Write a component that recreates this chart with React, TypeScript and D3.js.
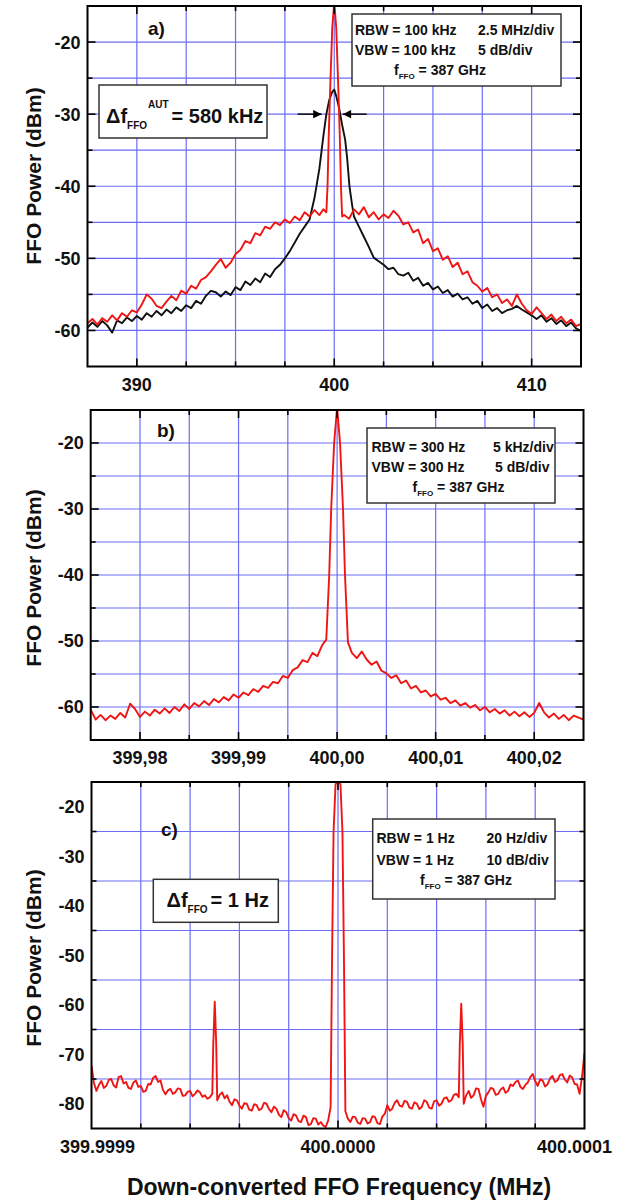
import React from "react";
import * as d3 from "d3";

// ---------------- Panel a data (MHz, dBm) ----------------
const aFreqTicks = [390, 400, 410];
const aFreqLabels = ["390", "400", "410"];
const aPowerTicks = [-20, -30, -40, -50, -60];
const aArrowTips = [399.36, 400.43];
const aArrowLevel = -30;

const aRed: [number, number][] = [
  [387.5, -59.0], [387.75, -58.4], [388.0, -59.2], [388.25, -58.3], [388.5, -58.8], [388.75, -57.9],
  [389.0, -58.6], [389.25, -57.6], [389.5, -58.1], [389.75, -57.2], [390.0, -57.5], [390.25, -56.4],
  [390.5, -55.0], [390.75, -55.6], [391.0, -56.6], [391.25, -56.9], [391.5, -56.0], [391.75, -55.2],
  [392.0, -55.8], [392.25, -54.5], [392.5, -54.9], [392.75, -53.8], [393.0, -54.2], [393.25, -53.0],
  [393.5, -52.6], [393.75, -51.8], [394.0, -50.9], [394.25, -50.1], [394.5, -51.3], [394.75, -50.6],
  [395.0, -49.4], [395.25, -48.8], [395.5, -47.6], [395.75, -47.9], [396.0, -46.5], [396.25, -46.8],
  [396.5, -45.6], [396.75, -45.9], [397.0, -45.0], [397.25, -45.4], [397.5, -44.6], [397.75, -45.1],
  [398.0, -44.2], [398.25, -44.7], [398.5, -43.6], [398.75, -44.2], [399.0, -43.3], [399.25, -44.0],
  [399.45, -43.2], [399.6, -43.6], [399.66, -40.0], [399.72, -33.0], [399.8, -26.0], [399.9, -18.0],
  [400.0, -14.5], [400.1, -18.0], [400.2, -26.0], [400.28, -33.0], [400.34, -40.0], [400.4, -44.2],
  [400.5, -44.0], [400.75, -44.5], [401.0, -43.2], [401.25, -43.9], [401.5, -42.9], [401.75, -44.3],
  [402.0, -43.6], [402.25, -44.6], [402.5, -43.9], [402.75, -44.4], [403.0, -43.4], [403.25, -44.1],
  [403.5, -45.3], [403.75, -45.0], [404.0, -46.4], [404.25, -46.0], [404.5, -47.9], [404.75, -47.3],
  [405.0, -49.0], [405.25, -48.6], [405.5, -50.2], [405.75, -49.7], [406.0, -51.2], [406.25, -50.6],
  [406.5, -52.2], [406.75, -51.8], [407.0, -53.3], [407.25, -53.8], [407.5, -54.6], [407.75, -54.1],
  [408.0, -55.4], [408.25, -55.0], [408.5, -56.2], [408.75, -55.7], [409.0, -56.6], [409.25, -55.0],
  [409.5, -56.3], [409.75, -57.2], [410.0, -57.7], [410.25, -56.8], [410.5, -57.6], [410.75, -58.4],
  [411.0, -57.8], [411.25, -58.7], [411.5, -58.1], [411.75, -59.0], [412.0, -58.5], [412.25, -59.4],
  [412.5, -59.1],
];

const aBlack: [number, number][] = [
  [387.5, -59.6], [387.75, -58.9], [388.0, -59.5], [388.25, -58.7], [388.5, -59.3], [388.75, -60.3],
  [389.0, -58.6], [389.25, -59.0], [389.5, -58.2], [389.75, -58.7], [390.0, -58.0], [390.25, -58.5],
  [390.5, -57.6], [390.75, -58.1], [391.0, -57.3], [391.25, -57.9], [391.5, -57.1], [391.75, -57.6],
  [392.0, -56.8], [392.25, -57.3], [392.5, -56.5], [392.75, -56.9], [393.0, -55.9], [393.25, -56.3],
  [393.5, -55.2], [393.75, -54.5], [394.0, -54.7], [394.25, -55.3], [394.5, -54.6], [394.75, -55.1],
  [395.0, -54.0], [395.25, -54.4], [395.5, -53.2], [395.75, -53.7], [396.0, -52.8], [396.25, -53.3],
  [396.5, -52.1], [396.75, -52.6], [397.0, -51.5], [397.25, -50.9], [397.5, -50.0], [397.75, -49.0],
  [398.0, -47.8], [398.25, -46.6], [398.5, -45.6], [398.75, -44.6], [399.0, -41.6], [399.25, -37.5],
  [399.45, -33.0], [399.6, -30.0], [399.75, -28.0], [399.9, -26.9], [400.0, -26.6], [400.1, -27.5],
  [400.25, -29.2], [400.4, -31.5], [400.55, -33.5], [400.65, -36.0], [400.77, -40.0], [400.9, -42.5],
  [401.0, -44.2], [401.25, -45.6], [401.5, -47.0], [401.75, -48.4], [402.0, -49.9], [402.25, -50.4],
  [402.5, -50.9], [402.75, -51.5], [403.0, -51.3], [403.25, -52.2], [403.5, -52.4], [403.75, -52.0],
  [404.0, -53.1], [404.25, -52.7], [404.5, -53.8], [404.75, -53.4], [405.0, -54.3], [405.25, -53.9],
  [405.5, -54.8], [405.75, -54.4], [406.0, -55.3], [406.25, -54.9], [406.5, -55.7], [406.75, -55.4],
  [407.0, -56.3], [407.25, -55.9], [407.5, -56.9], [407.75, -56.4], [408.0, -57.3], [408.25, -56.9],
  [408.5, -57.6], [408.75, -57.2], [409.0, -57.0], [409.25, -56.6], [409.5, -57.1], [409.75, -57.5],
  [410.0, -57.9], [410.25, -58.4], [410.5, -57.9], [410.75, -58.8], [411.0, -58.3], [411.25, -59.1],
  [411.5, -58.6], [411.75, -59.4], [412.0, -58.9], [412.25, -59.7], [412.5, -60.1],
];

// ---------------- Panel b data (MHz, dBm) ----------------
const bFreqTicks = [399.98, 399.99, 400.0, 400.01, 400.02];
const bFreqLabels = ["399,98", "399,99", "400,00", "400,01", "400,02"];
const bPowerTicks = [-20, -30, -40, -50, -60];

const bRed: [number, number][] = [
  [399.975, -60.4], [399.9755, -61.9], [399.976, -61.2], [399.9765, -62.0], [399.977, -61.3],
  [399.9775, -61.8], [399.978, -60.9], [399.9785, -61.6], [399.979, -59.5], [399.9795, -60.3],
  [399.98, -61.5], [399.9805, -60.7], [399.981, -61.3], [399.9815, -60.4], [399.982, -61.0],
  [399.9825, -60.2], [399.983, -60.9], [399.9835, -60.0], [399.984, -60.6], [399.9845, -59.6],
  [399.985, -60.3], [399.9855, -59.4], [399.986, -59.9], [399.9865, -59.1], [399.987, -59.7],
  [399.9875, -58.8], [399.988, -59.3], [399.9885, -58.5], [399.989, -59.0], [399.9895, -58.1],
  [399.99, -58.6], [399.9905, -57.8], [399.991, -58.2], [399.9915, -57.3], [399.992, -57.7],
  [399.9925, -56.8], [399.993, -57.1], [399.9935, -56.2], [399.994, -56.4], [399.9945, -55.3],
  [399.995, -55.6], [399.9955, -54.4], [399.996, -54.0], [399.9965, -52.9], [399.997, -53.2],
  [399.9975, -51.8], [399.998, -52.3], [399.9985, -50.6], [399.9989, -49.8], [399.9992, -40.0],
  [399.9994, -30.0], [399.9997, -20.0], [400.0, -14.6], [400.0003, -20.0], [400.0006, -30.0],
  [400.0008, -40.0], [400.0011, -50.2], [400.0015, -51.8],
  [400.002, -52.6], [400.0025, -51.6], [400.003, -52.8], [400.0035, -53.6], [400.004, -53.1],
  [400.0045, -54.5], [400.005, -54.9], [400.0055, -55.6], [400.006, -55.2], [400.0065, -56.4],
  [400.007, -56.0], [400.0075, -57.2], [400.008, -56.8], [400.0085, -57.8], [400.009, -57.5],
  [400.0095, -58.4], [400.01, -58.0], [400.0105, -58.9], [400.011, -58.6], [400.0115, -59.4],
  [400.012, -59.0], [400.0125, -59.8], [400.013, -59.4], [400.0135, -60.1], [400.014, -59.7],
  [400.0145, -60.5], [400.015, -60.0], [400.0155, -60.8], [400.016, -60.3], [400.0165, -61.0],
  [400.017, -60.5], [400.0175, -61.3], [400.018, -60.7], [400.0185, -61.4], [400.019, -60.8],
  [400.0195, -61.5], [400.02, -60.9], [400.0205, -59.4], [400.021, -60.8], [400.0215, -61.6],
  [400.022, -61.0], [400.0225, -61.8], [400.023, -61.2], [400.0235, -62.0], [400.024, -61.3],
  [400.025, -61.9],
];

// ---------------- Panel c data (Hz offset from 400 MHz, dBm) ----------------
const cFreqTicks = [-100, 0, 100];
const cFreqLabels = ["399.9999", "400.0000", "400.0001"];
const cPowerTicks = [-20, -30, -40, -50, -60, -70, -80];

const cRed: [number, number][] = [
  [-100, -72.3], [-99, -75.8], [-98, -77.4], [-97, -76.2], [-96, -75.4], [-95, -76.8], [-94, -76.4],
  [-93, -75.2], [-92, -75.0], [-91, -76.3], [-90, -76.7], [-89, -74.6], [-88, -74.4], [-87, -75.9],
  [-86, -75.6], [-85, -76.8], [-84, -77.0], [-83, -75.7], [-82, -75.3], [-81, -76.6], [-80, -76.4],
  [-79, -77.6], [-78, -77.4], [-77, -76.0], [-76, -76.1], [-75, -74.8], [-74, -74.4], [-73, -75.6],
  [-72, -75.3], [-71, -77.2], [-70, -78.1], [-69, -77.3], [-68, -77.0], [-67, -78.0], [-66, -77.7],
  [-65, -76.9], [-64, -77.0], [-63, -78.4], [-62, -78.3], [-61, -77.6], [-60, -77.4], [-59, -78.5],
  [-58, -78.0], [-57, -77.3], [-56, -77.7], [-55, -78.6], [-54, -78.3], [-53, -79.0], [-52, -78.7],
  [-51, -78.0], [-50.6, -68.0], [-50, -59.4], [-49.4, -68.0], [-49, -79.3], [-48, -78.2], [-47, -77.7],
  [-46, -78.9], [-45, -78.3], [-44, -79.6], [-43, -80.3], [-42, -79.1], [-41, -79.3], [-40, -80.4],
  [-39, -81.0], [-38, -79.9], [-37, -80.0], [-36, -81.2], [-35, -81.4], [-34, -80.1], [-33, -80.3],
  [-32, -81.3], [-31, -81.0], [-30, -79.8], [-29, -80.0], [-28, -81.1], [-27, -81.7], [-26, -80.6],
  [-25, -81.0], [-24, -82.2], [-23, -82.7], [-22, -81.3], [-21, -81.7], [-20, -82.9], [-19, -83.4],
  [-18, -82.1], [-17, -82.4], [-16, -83.5], [-15, -83.7], [-14, -82.4], [-13, -82.7], [-12, -84.3],
  [-11, -84.1], [-10, -82.9], [-9, -83.0], [-8, -84.2], [-7, -83.7], [-6, -84.4], [-5, -84.7],
  [-4, -83.4], [-3, -80.7], [-2.4, -50.0], [-1.8, -25.0], [-1.0, -15.5], [0, -14.5], [1.0, -15.5],
  [1.8, -25.0], [2.4, -50.0], [3, -81.5],
  [4, -83.0], [5, -83.7], [6, -82.6], [7, -82.7], [8, -83.8], [9, -84.1], [10, -82.9], [11, -83.0],
  [12, -84.0], [13, -83.7], [14, -82.5], [15, -82.7], [16, -83.9], [17, -84.1], [18, -82.6],
  [19, -82.0], [20, -80.3], [21, -81.4], [22, -81.0], [23, -79.8], [24, -79.3], [25, -80.4],
  [26, -80.6], [27, -79.4], [28, -79.6], [29, -80.8], [30, -81.0], [31, -79.7], [32, -80.0],
  [33, -81.1], [34, -80.6], [35, -79.3], [36, -79.6], [37, -80.8], [38, -81.0], [39, -79.5],
  [40, -79.3], [41, -80.4], [42, -80.0], [43, -78.9], [44, -78.7], [45, -79.6], [46, -79.3],
  [47, -78.2], [48, -78.0], [49, -78.7], [49.4, -68.0], [50, -59.8], [50.6, -68.0], [51, -80.0],
  [52, -78.3], [53, -77.4], [54, -78.8], [55, -78.3], [56, -76.9], [57, -77.0], [58, -79.1],
  [59, -80.6], [60, -78.4], [61, -77.7], [62, -76.8], [63, -77.0], [64, -78.2], [65, -78.0],
  [66, -77.1], [67, -76.7], [68, -77.8], [69, -77.4], [70, -76.1], [71, -76.4], [72, -75.6],
  [73, -75.3], [74, -76.6], [75, -77.0], [76, -76.2], [77, -75.7], [78, -74.6], [79, -74.0],
  [80, -75.4], [81, -76.4], [82, -75.1], [83, -75.3], [84, -76.5], [85, -76.1], [86, -74.9],
  [87, -74.4], [88, -75.6], [89, -75.3], [90, -74.2], [91, -74.0], [92, -75.1], [93, -75.7],
  [94, -74.3], [95, -74.7], [96, -76.0], [97, -76.1], [98, -78.0], [99, -74.5], [100, -69.7],
];

// ---------------- styling ----------------
const FONT = "'Liberation Sans', Arial, Helvetica, sans-serif";
const RED = "#f01515";
const BLACK = "#111";
const GRID = "#6c6cf6";

type Series = { data: [number, number][]; color: string; width: number };

type PanelProps = {
  id: string;
  left: number;
  right: number;
  top: number;
  bottom: number;
  xDomain: [number, number];
  yDomain: [number, number];
  xStep: number;
  yStep: number;
  xTicks: number[];
  xLabels: string[];
  xLabelDx?: number[];
  yTicks: number[];
  series: Series[];
  yTitleY: number;
  children?: (x: d3.ScaleLinear<number, number>, y: d3.ScaleLinear<number, number>) => React.ReactNode;
};

function gridValues(d: [number, number], step: number) {
  const n = Math.round((d[1] - d[0]) / step);
  return d3.range(1, n).map((i) => d[0] + i * step);
}

function Panel(p: PanelProps) {
  const x = d3.scaleLinear().domain(p.xDomain).range([p.left, p.right]);
  const y = d3.scaleLinear().domain(p.yDomain).range([p.bottom, p.top]);
  const xs = gridValues(p.xDomain, p.xStep);
  const ys = gridValues(p.yDomain, p.yStep);
  const line = d3
    .line<[number, number]>()
    .x((d) => x(d[0]))
    .y((d) => y(d[1]));
  const isMajor = (v: number, arr: number[], tol: number) => arr.some((t) => Math.abs(t - v) < tol);
  const xTol = p.xStep / 10;
  const yTol = p.yStep / 10;
  return (
    <g>
      <defs>
        <clipPath id={`clip-${p.id}`}>
          <rect x={p.left} y={p.top} width={p.right - p.left} height={p.bottom - p.top} />
        </clipPath>
      </defs>
      <rect x={p.left} y={p.top} width={p.right - p.left} height={p.bottom - p.top} fill="#fff" />
      {xs.map((v, i) => (
        <line key={`gx${i}`} x1={x(v)} x2={x(v)} y1={p.top} y2={p.bottom} stroke={GRID} strokeWidth={1.2} />
      ))}
      {ys.map((v, i) => (
        <line key={`gy${i}`} x1={p.left} x2={p.right} y1={y(v)} y2={y(v)} stroke={GRID} strokeWidth={1.2} />
      ))}
      <g clipPath={`url(#clip-${p.id})`}>
        {p.series.map((s, i) => (
          <path key={i} d={line(s.data) || ""} fill="none" stroke={s.color} strokeWidth={s.width} strokeLinejoin="round" />
        ))}
      </g>
      {p.children ? p.children(x, y) : null}
      {xs.map((v, i) => {
        const len = isMajor(v, p.xTicks, xTol) ? 8 : 5;
        return (
          <g key={`tx${i}`} stroke="#000" strokeWidth={1.6}>
            <line x1={x(v)} x2={x(v)} y1={p.bottom} y2={p.bottom - len} />
            <line x1={x(v)} x2={x(v)} y1={p.top} y2={p.top + len} />
          </g>
        );
      })}
      {ys.map((v, i) => {
        const len = isMajor(v, p.yTicks, yTol) ? 8 : 5;
        return (
          <g key={`ty${i}`} stroke="#000" strokeWidth={1.6}>
            <line x1={p.left} x2={p.left + len} y1={y(v)} y2={y(v)} />
            <line x1={p.right} x2={p.right - len} y1={y(v)} y2={y(v)} />
          </g>
        );
      })}
      <rect
        x={p.left}
        y={p.top}
        width={p.right - p.left}
        height={p.bottom - p.top}
        fill="none"
        stroke="#000"
        strokeWidth={2}
      />
      {p.xTicks.map((v, i) => (
        <text
          key={`lx${i}`}
          x={x(v) + (p.xLabelDx ? p.xLabelDx[i] : 0)}
          y={p.bottom + 24}
          textAnchor="middle"
          fontFamily={FONT}
          fontWeight="bold"
          fontSize={18}
          fill="#111"
        >
          {p.xLabels[i]}
        </text>
      ))}
      {p.yTicks.map((v, i) => (
        <text
          key={`ly${i}`}
          x={p.left - 7}
          y={y(v)}
          dy="0.36em"
          textAnchor="end"
          fontFamily={FONT}
          fontWeight="bold"
          fontSize={18}
          fill="#111"
        >
          {String(v)}
        </text>
      ))}
      <text
        transform={`translate(41,${p.yTitleY}) rotate(-90)`}
        textAnchor="middle"
        fontFamily={FONT}
        fontWeight="bold"
        fontSize={21}
        fill="#111"
      >
        FFO Power (dBm)
      </text>
    </g>
  );
}

const txt = { fontFamily: FONT, fontWeight: "bold" as const, fill: "#111" };

function FLine({ x, y, size = 14 }: { x: number; y: number; size?: number }) {
  return (
    <text x={x} y={y} fontSize={size} {...txt}>
      f
      <tspan fontSize={8} y={y + 4}>
        FFO
      </tspan>
      <tspan y={y} fontSize={size}>
        {" = 387 GHz"}
      </tspan>
    </text>
  );
}

export default function App() {
  return (
    <div style={{ position: "absolute", left: 0, top: 0, width: 626, height: 1202, background: "#fff" }}>
      <svg width={626} height={1202} viewBox="0 0 626 1202" style={{ display: "block" }}>
        <rect width={626} height={1202} fill="#fff" />
        <defs>
          <marker id="arrowHead" viewBox="0 0 10 10" refX={10} refY={5} markerWidth={7} markerHeight={6} orient="auto">
            <path d="M0,0 L10,5 L0,10 z" fill="#000" />
          </marker>
        </defs>

        {/* ---------- panel a ---------- */}
        <Panel
          id="a"
          left={87.5}
          right={581}
          top={6}
          bottom={366.5}
          xDomain={[387.5, 412.5]}
          yDomain={[-65, -15]}
          xStep={2.5}
          yStep={5}
          xTicks={aFreqTicks}
          xLabels={aFreqLabels}
          yTicks={aPowerTicks}
          yTitleY={176}
          series={[
            { data: aBlack, color: BLACK, width: 1.9 },
            { data: aRed, color: RED, width: 1.9 },
          ]}
        >
          {(x, y) => (
            <g>
              <line
                x1={x(aArrowTips[0]) - 24}
                x2={x(aArrowTips[0])}
                y1={y(aArrowLevel)}
                y2={y(aArrowLevel)}
                stroke="#000"
                strokeWidth={1.4}
                markerEnd="url(#arrowHead)"
              />
              <line
                x1={x(aArrowTips[1]) + 24}
                x2={x(aArrowTips[1])}
                y1={y(aArrowLevel)}
                y2={y(aArrowLevel)}
                stroke="#000"
                strokeWidth={1.4}
                markerEnd="url(#arrowHead)"
              />
              <text x={148} y={35} fontSize={19} {...txt}>
                a)
              </text>
              <rect x={99} y={85} width={168} height={53} fill="#fff" stroke="#333" strokeWidth={1.5} />
              <text x={106} y={123} fontSize={20} {...txt}>
                Δf
                <tspan fontSize={10} y={129}>
                  FFO
                </tspan>
                <tspan fontSize={10} y={108} dx={1}>
                  AUT
                </tspan>
                <tspan fontSize={20} y={123} dx={3}>
                  = 580 kHz
                </tspan>
              </text>
              <rect x={352} y={14} width={209} height={72} fill="#fff" stroke="#333" strokeWidth={1.5} />
              <text x={355} y={35} fontSize={14} {...txt}>RBW = 100 kHz</text>
              <text x={478} y={35} fontSize={14} {...txt}>2.5 MHz/div</text>
              <text x={355} y={55} fontSize={14} {...txt}>VBW = 100 kHz</text>
              <text x={478} y={55} fontSize={14} {...txt}>5 dB/div</text>
              <FLine x={394} y={75} />
            </g>
          )}
        </Panel>

        {/* ---------- panel b ---------- */}
        <Panel
          id="b"
          left={90.7}
          right={583.5}
          top={410}
          bottom={740}
          xDomain={[399.975, 400.025]}
          yDomain={[-65, -15]}
          xStep={0.005}
          yStep={5}
          xTicks={bFreqTicks}
          xLabels={bFreqLabels}
          yTicks={bPowerTicks}
          yTitleY={578}
          series={[{ data: bRed, color: RED, width: 1.9 }]}
        >
          {() => (
            <g>
              <text x={157} y={437} fontSize={19} {...txt}>
                b)
              </text>
              <rect x={367} y={428} width={188} height={75} fill="#fff" stroke="#333" strokeWidth={1.5} />
              <text x={371.5} y={452} fontSize={14} {...txt}>RBW = 300 Hz</text>
              <text x={493} y={452} fontSize={14} {...txt}>5 kHz/div</text>
              <text x={371.5} y={472} fontSize={14} {...txt}>VBW = 300 Hz</text>
              <text x={495} y={472} fontSize={14} {...txt}>5 dB/div</text>
              <FLine x={412.5} y={492} />
            </g>
          )}
        </Panel>

        {/* ---------- panel c ---------- */}
        <Panel
          id="c"
          left={91.5}
          right={584.5}
          top={782}
          bottom={1128.5}
          xDomain={[-100, 100]}
          yDomain={[-85, -15]}
          xStep={20}
          yStep={10}
          xTicks={cFreqTicks}
          xLabels={cFreqLabels}
          xLabelDx={[6, 0, -10]}
          yTicks={cPowerTicks}
          yTitleY={958}
          series={[{ data: cRed, color: RED, width: 1.9 }]}
        >
          {() => (
            <g>
              <text x={161} y={836} fontSize={19} {...txt}>
                c)
              </text>
              <rect x={153.3} y={879.3} width={125} height={43} fill="#fff" stroke="#333" strokeWidth={1.5} />
              <text x={166.5} y={907} fontSize={20} {...txt}>
                Δf
                <tspan fontSize={10} y={913}>
                  FFO
                </tspan>
                <tspan fontSize={20} y={907} dx={3}>
                  = 1 Hz
                </tspan>
              </text>
              <rect x={372.7} y={819} width={182.3} height={80} fill="#fff" stroke="#333" strokeWidth={1.5} />
              <text x={376.5} y={843} fontSize={14} {...txt}>RBW = 1 Hz</text>
              <text x={486.5} y={843} fontSize={14} {...txt}>20 Hz/div</text>
              <text x={376.5} y={865} fontSize={14} {...txt}>VBW = 1 Hz</text>
              <text x={486.5} y={865} fontSize={14} {...txt}>10 dB/div</text>
              <FLine x={420} y={885} />
            </g>
          )}
        </Panel>

        <text x={339} y={1195} textAnchor="middle" fontSize={23} {...txt}>
          Down-converted FFO Frequency (MHz)
        </text>
      </svg>
    </div>
  );
}
